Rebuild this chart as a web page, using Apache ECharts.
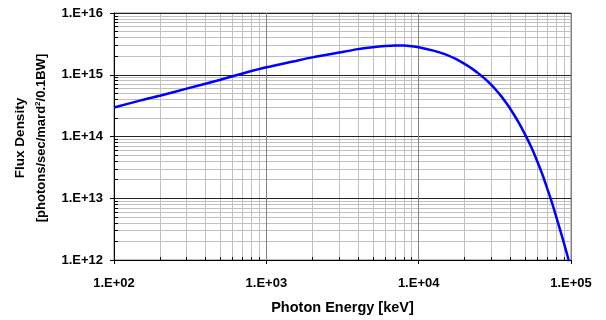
<!DOCTYPE html>
<html><head><meta charset="utf-8">
<script src="https://cdn.jsdelivr.net/npm/echarts@6/dist/echarts.min.js"></script>
<style>html,body{margin:0;padding:0;background:#fff}#c{width:606px;height:320px}</style>
</head><body><div id="c"></div>
<script>
const energies = [100,150,200,300,500,700,1000,1500,2000,3000,4000,5000,6000,7000,8000,9000,10000,12500,15000,17500,20000,22500,25000,27500,30000,32500,35000,37500,40000,45000,50000,55000,60000,65000,70000,75000,80000,85000,90000,95000,100000];
const flux = [2.95e14,3.85e14,4.57e14,5.96e14,8.32e14,1.05e15,1.32e15,1.64e15,1.91e15,2.29e15,2.60e15,2.79e15,2.92e15,2.99e15,2.98e15,2.90e15,2.79e15,2.455e15,2.14e15,1.80e15,1.496e15,1.245e15,1.023e15,8.41e14,6.84e14,5.50e14,4.42e14,3.51e14,2.79e14,1.74e14,1.07e14,6.61e13,3.98e13,2.40e13,1.41e13,8.51e12,5.01e12,3.02e12,1.86e12,1.15e12,7.08e11];
const xTickLabels = ['1.E+02','1.E+03','1.E+04','1.E+05'];
const yTickLabels = ['1.E+12','1.E+13','1.E+14','1.E+15','1.E+16'];
const xMinExp = 2, xMaxExp = 5, yMinExp = 12, yMaxExp = 16;

function minorValues(e0, e1) {
  const out = [];
  for (let e = e0; e < e1; e++) for (let m = 2; m <= 9; m++) out.push(m * Math.pow(10, e));
  return out;
}
const xMinor = minorValues(xMinExp, xMaxExp);
const yMinor = minorValues(yMinExp, yMaxExp);
const FF = '"Liberation Sans", Arial, sans-serif';

const chart = echarts.init(document.getElementById('c'), null, {renderer: 'canvas'});
chart.setOption({
  animation: false,
  backgroundColor: '#fff',
  grid: {left: 114, right: 35, top: 13, bottom: 57, show: true, borderColor: '#808080', borderWidth: 1, backgroundColor: 'transparent'},
  xAxis: [
    {
      type: 'log', min: Math.pow(10, xMinExp), max: Math.pow(10, xMaxExp), position: 'bottom', z: 2,
      axisLine: {show: true, onZero: false, lineStyle: {color: '#000', width: 1}},
      axisTick: {show: true, length: 4, lineStyle: {color: '#000'}},
      axisLabel: {margin: 17, color: '#000', fontWeight: 'bold', fontSize: 13, fontFamily: FF,
        formatter: v => xTickLabels[Math.round(Math.log10(v)) - xMinExp]},
      splitLine: {show: true, lineStyle: {color: '#808080', width: 1}},
      name: 'Photon Energy [keV]', nameLocation: 'middle', nameGap: 40,
      nameTextStyle: {color: '#000', fontWeight: 'bold', fontSize: 14.5, fontFamily: FF}
    },
    {
      type: 'log', min: Math.pow(10, xMinExp), max: Math.pow(10, xMaxExp), position: 'bottom', z: 1,
      axisLine: {show: false},
      axisTick: {show: true, inside: true, length: 3, customValues: xMinor, lineStyle: {color: '#000'}},
      axisLabel: {show: false},
      splitLine: {show: true, lineStyle: {color: '#c0c0c0', width: 1}}
    }
  ],
  yAxis: [
    {
      type: 'log', min: Math.pow(10, yMinExp), max: Math.pow(10, yMaxExp), position: 'left', z: 2,
      axisLine: {show: true, onZero: false, lineStyle: {color: '#000', width: 1}},
      axisTick: {show: true, length: 4, lineStyle: {color: '#000'}},
      axisLabel: {margin: 11, color: '#000', fontWeight: 'bold', fontSize: 13, fontFamily: FF,
        formatter: v => yTickLabels[Math.round(Math.log10(v)) - yMinExp]},
      splitLine: {show: true, lineStyle: {color: '#222', width: 1}}
    },
    {
      type: 'log', min: Math.pow(10, yMinExp), max: Math.pow(10, yMaxExp), position: 'left', z: 1,
      axisLine: {show: false},
      axisTick: {show: true, inside: true, length: 4, customValues: yMinor, lineStyle: {color: '#000'}},
      axisLabel: {show: false},
      splitLine: {show: true, lineStyle: {color: '#c0c0c0', width: 1}}
    }
  ],
  graphic: [
    {type: 'text', x: 20, y: 138, rotation: Math.PI / 2, z: 10,
      style: {text: 'Flux Density', font: 'bold 13.5px ' + FF, fill: '#000', align: 'center', verticalAlign: 'middle'}},
    {type: 'text', x: 41, y: 138, rotation: Math.PI / 2, z: 10,
      style: {text: '{a|[photons/sec/mard}{s|2}{a|/0.1BW]}', fill: '#000', align: 'center', verticalAlign: 'middle',
        rich: {a: {font: 'bold 13px ' + FF, fill: '#000', lineHeight: 15},
               s: {font: 'bold 8px ' + FF, fill: '#000', verticalAlign: 'top', lineHeight: 15}}}}
  ],
  series: [{
    type: 'line', xAxisIndex: 0, yAxisIndex: 0, z: 5,
    data: energies.map((e, i) => [e, flux[i]]),
    showSymbol: false, symbol: 'none', smooth: 0.25, clip: true,
    lineStyle: {color: '#0000ff', width: 2.5}
  }]
});
</script></body></html>
